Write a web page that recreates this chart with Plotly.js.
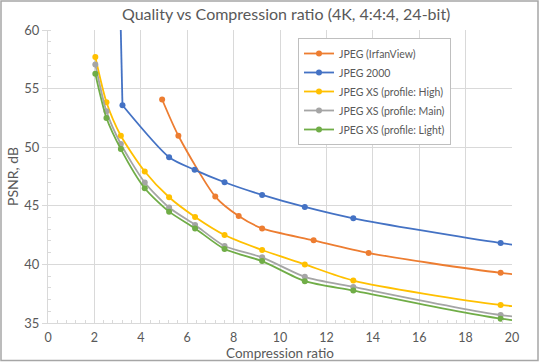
<!DOCTYPE html>
<html>
<head>
<meta charset="utf-8">
<script src="https://cdn.plot.ly/plotly-3.0.1.min.js"></script>
<style>
html,body{margin:0;padding:0;background:#fff;}
#chart{width:540px;height:362px;}
</style>
</head>
<body>
<div id="chart"></div>
<script>
// Series data (compression ratio, PSNR dB)
const irfanX = [4.92, 5.62, 7.21, 8.22, 9.23, 11.45, 13.82, 19.51, 26.0];
const irfanY = [54.07, 50.98, 45.79, 44.13, 43.07, 42.05, 40.97, 39.28, 38.2];

const j2kX = [2.91, 3.21, 5.22, 6.32, 7.61, 9.23, 11.07, 13.16, 19.51, 26.0];
const j2kY = [80.0, 53.58, 49.15, 48.07, 47.01, 45.93, 44.9, 43.93, 41.82, 40.3];

const xsX = [2.04, 2.52, 3.14, 4.17, 5.22, 6.34, 7.61, 9.23, 11.07, 13.16, 19.51, 26.0];
const xsHighY  = [57.69, 53.84, 50.98, 47.93, 45.73, 44.05, 42.51, 41.23, 40.0, 38.62, 36.54, 35.6];
const xsMainY  = [57.06, 53.06, 50.27, 46.99, 44.85, 43.37, 41.57, 40.6, 38.94, 38.08, 35.68, 34.6];
const xsLightY = [56.26, 52.49, 49.84, 46.5, 44.5, 43.07, 41.31, 40.28, 38.57, 37.77, 35.37, 34.3];

const seriesNames = ["JPEG (IrfanView)", "JPEG 2000", "JPEG XS (profile: High)", "JPEG XS (profile: Main)", "JPEG XS (profile: Light)"];
const seriesColors = ["#ED7D31", "#4472C4", "#FFC000", "#A5A5A5", "#70AD47"];

const chartTitle = "Quality vs Compression ratio (4K, 4:4:4, 24-bit)";
const xTitle = "Compression ratio";
const yTitle = "PSNR, dB";

const FONT = "Lato, 'Open Sans', sans-serif";

function mk(x, y, i, opts) {
  opts = opts || {};
  return Object.assign({
    x: x, y: y, name: seriesNames[i], type: "scatter", mode: "lines+markers",
    line: {color: seriesColors[i], width: 1.8, shape: "spline", smoothing: 0.7},
    marker: {color: seriesColors[i], size: 6, symbol: "circle"},
    legendrank: i + 1
  }, opts);
}

const data = [
  mk(irfanX, irfanY, 0),
  // JPEG 2000: steep first segment drawn straight, remaining points smoothed
  mk(j2kX.slice(0, 2), j2kY.slice(0, 2), 1, {mode: "lines", showlegend: false,
     line: {color: seriesColors[1], width: 1.8, shape: "linear"}}),
  mk(j2kX.slice(1), j2kY.slice(1), 1),
  mk(xsX, xsHighY, 2),
  mk(xsX, xsMainY, 3),
  mk(xsX, xsLightY, 4)
];

const W = 540, H = 362, L = 48, R = 28, T = 30, B = 39;
const pw = W - L - R, ph = H - T - B;
function px(p) { return (p - L) / pw; }
function py(p) { return (H - B - p) / ph; }

const layout = {
  width: W, height: H,
  margin: {l: L, r: R, t: T, b: B, pad: 0},
  paper_bgcolor: "#ffffff",
  plot_bgcolor: "#ffffff",
  font: {family: FONT, color: "#595959", size: 12},
  title: {text: chartTitle, font: {family: FONT, size: 16, color: "#595959"}, x: 0.53, xanchor: "center", y: 0.96, yanchor: "middle"},
  xaxis: {
    range: [0, 20], dtick: 2, tick0: 0,
    showgrid: true, gridcolor: "#d9d9d9", gridwidth: 1,
    zeroline: false, showline: true, linecolor: "#d9d9d9", linewidth: 1,
    ticks: "", ticklabelstandoff: 3, tickfont: {family: FONT, size: 12.5, color: "#595959"},
    minor: {dtick: 0.4, ticks: "inside", ticklen: 3, tickcolor: "#d9d9d9", showgrid: false},
    title: {text: xTitle, font: {family: FONT, size: 13.5, color: "#595959"}, standoff: 4},
    fixedrange: true
  },
  yaxis: {
    range: [35, 60], dtick: 5, tick0: 35,
    showgrid: true, gridcolor: "#d9d9d9", gridwidth: 1,
    zeroline: false, showline: true, linecolor: "#d9d9d9", linewidth: 1,
    ticks: "outside", ticklen: 5, tickcolor: "#d9d9d9",
    tickfont: {family: FONT, size: 13, color: "#595959"},
    minor: {dtick: 1, ticks: "inside", ticklen: 3, tickcolor: "#d9d9d9", showgrid: false},
    title: {text: yTitle, font: {family: FONT, size: 14, color: "#595959"}, standoff: 2},
    fixedrange: true
  },
  showlegend: true,
  legend: {
    x: px(298), y: py(38), xanchor: "left", yanchor: "top",
    bgcolor: "#ffffff", bordercolor: "#bfbfbf", borderwidth: 1,
    font: {family: FONT, size: 10.5, color: "#595959"},
    tracegroupgap: 0, itemwidth: 30
  },
  shapes: [
    {type: "rect", xref: "paper", yref: "paper", x0: px(1), x1: px(538), y0: py(1), y1: py(360.5),
     line: {color: "#a6a6a6", width: 1.5}, fillcolor: "rgba(0,0,0,0)", layer: "above"}
  ]
};

Plotly.newPlot("chart", data, layout, {displayModeBar: false, staticPlot: true});
</script>
</body>
</html>
